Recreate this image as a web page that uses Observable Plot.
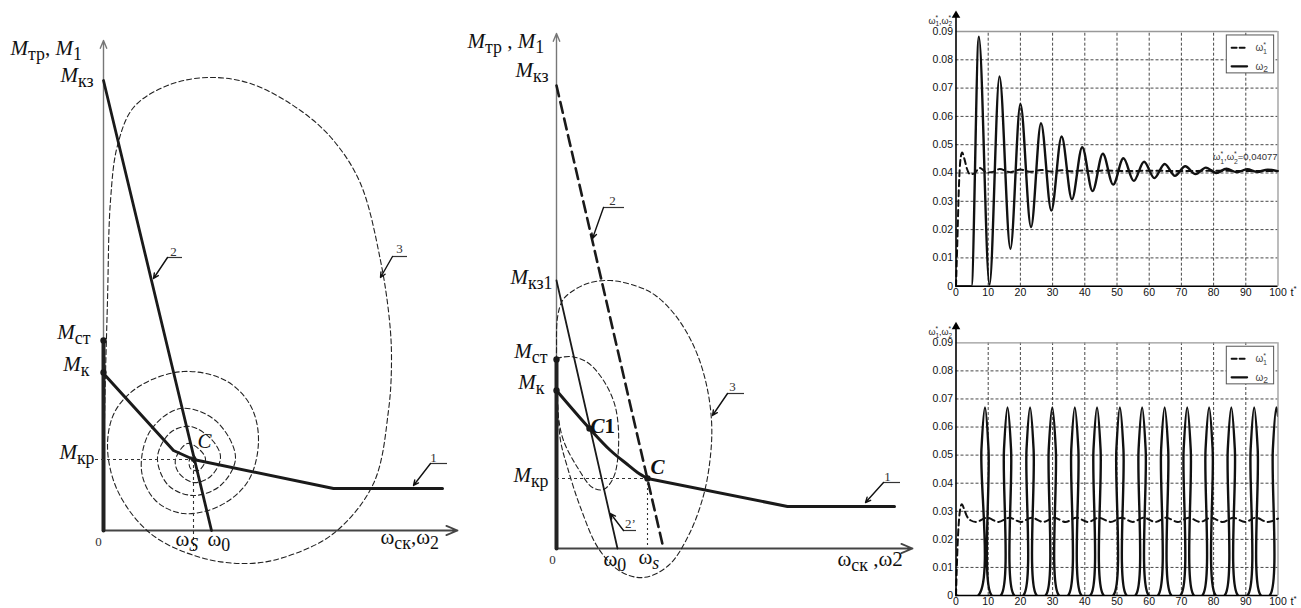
<!DOCTYPE html>
<html><head><meta charset="utf-8">
<script src="https://cdn.jsdelivr.net/npm/d3@7"></script>
<script src="https://cdn.jsdelivr.net/npm/@observablehq/plot@0.6"></script>
<style>
html,body{margin:0;padding:0;background:#fff;}
#fig{position:relative;width:1301px;height:608px;overflow:hidden;background:#fff;}
#fig svg{position:absolute;}
</style></head><body><div id="fig"></div>
<script>
const SERIF = "'Liberation Serif','Times New Roman',serif";
const SANS = "Arial,'Liberation Sans',sans-serif";

// ---------- Diagram 1 (stable case) : units ω (x) and M (y) ----------
const d1Axes = [[0,0,0,49],[0,0,35.4,0]];
const d1Stick = [[0,0],[0,19.0]];
const d1Curve1 = [[0,15.7],[7.0,8.0],[9.0,7.1],[23.0,4.2],[33.9,4.2]];
const d1Curve2 = [[0,45.0],[10.8,0]];
const d1Trajectory = [[0,0],[0.1,11.0],[0.4,23.0],[0.7,33.0],[1.4,38.5],[3.0,42.3],[6.4,44.5],[10.4,45.3],[14.7,44.7],[19.7,42.0],[23.0,39.0],[25.7,34.7],[27.7,27.0],[28.6,21.0],[28.8,17.0],[28.5,12.0],[27.0,4.7],[23.0,-0.3],[18.0,-2.7],[14.4,-3.3],[9.7,-2.7],[4.7,-0.3],[1.4,4.0],[0.4,8.5],[1.2,12.0],[3.7,14.5],[8.0,15.9],[12.2,15.0],[14.7,12.5],[15.5,9.0],[14.5,5.0],[11.7,2.5],[8.0,1.7],[5.2,3.0],[3.8,6.0],[4.7,10.0],[7.7,12.2],[11.2,11.0],[13.2,7.3],[11.7,4.5],[9.0,3.5],[6.5,4.5],[5.4,7.3],[6.7,9.8],[8.7,10.4],[10.9,9.0],[11.7,7.3],[10.7,5.4],[9.0,4.8],[7.5,5.8],[7.2,7.1],[8.4,8.7],[9.7,8.0],[10.2,7.1],[9.5,6.0],[8.7,6.2],[8.6,7.1],[9.0,7.5],[9.3,7.0],[9.0,6.8]];
const d1Points = [[0,19.0],[0,15.8]];
const d1CenterPoint = [[9.0,7.1]];
const d1GuidesH = [[-0.8,9.0,7.1]];
const d1GuidesV = [[9.0,7.1,-2.0]];
const d1LeaderBars = [[6.4,7.9,27.3],[28.9,30.4,27.4],[32.7,34.4,6.7]];
const d1LeaderArrows = [[6.4,27.3,5.0,25.2],[28.9,27.4,27.7,25.3],[32.7,6.7,31.0,4.5]];
const d1LabelsStart = [
  {u:-9.3, v:47.6, t:"iM|sтр|n, |iM|s1"},
  {u:9.4, v:8.3, t:"iC|n"},
  {u:7.2, v:-1.5, t:"nω|jS"},
  {u:10.4, v:-1.5, t:"nω|s0"},
  {u:27.7, v:-1.3, t:"nω|sск|n,ω|s2"}
];
const d1LabelsEnd = [
  {u:-1.0, v:44.9, t:"iM|sкз"},
  {u:-1.3, v:19.2, t:"iM|sст"},
  {u:-1.4, v:16.0, t:"iM|sк"},
  {u:-0.9, v:7.2, t:"iM|sкр"}
];
const d1Numbers = [{u:7.0,v:27.5,t:"2"},{u:29.6,v:27.8,t:"3"},{u:33.0,v:6.9,t:"1"},{u:-0.5,v:-1.5,t:"0"}];

// ---------- Diagram 2 (self-oscillation case) ----------
const d2Axes = [[0,0,0,51.5],[0,0,35.6,0]];
const d2Stick = [[0,0],[0,18.9]];
const d2Curve1a = [[0,15.8],[3.3,12.0],[5.4,9.8],[7.1,8.4],[8.1,7.6],[9.1,7.0]];
const d2Curve1b = [[9.1,7.0],[23.1,4.2],[33.8,4.2]];
const d2Curve2 = [[0,46.3],[10.7,0]];
const d2Curve2p = [[0,26.8],[6.1,0]];
const d2LoopSmall = [[0,19.0],[1.4,19.2],[3.1,18.6],[4.7,16.8],[5.9,14.1],[6.2,10.1],[5.7,7.1],[4.7,5.9],[3.6,6.1],[2.1,8.1],[0.7,10.8],[0.2,13.1],[0.1,15.3]];
const d2LoopLarge = [[0.1,14.8],[0,17.8],[0,19.8],[0.1,23.1],[0.6,24.8],[1.4,25.6],[3.1,26.5],[5.4,26.8],[8.1,26.2],[9.9,25.3],[11.9,23.3],[13.7,20.3],[14.9,16.8],[15.5,12.8],[15.4,9.3],[14.7,5.3],[13.2,1.3],[11.2,-1.7],[8.7,-2.9],[6.4,-2.3],[4.2,0],[2.4,4.1],[1.1,8.1],[0.4,10.8],[0.1,14.8]];
const d2Points = [[0,18.9],[0,15.8],[3.3,12.0],[9.1,7.0]];
const d2GuidesH = [[0,9.1,7.0]];
const d2GuidesV = [[9.1,7.0,0]];
const d2LeaderBars = [[4.7,6.8,34.1],[17.1,18.8,15.5],[32.7,34.4,6.6],[6.7,8.0,1.8]];
const d2LeaderArrows = [[4.7,34.1,3.6,31.0],[17.1,15.5,15.6,13.3],[32.7,6.6,30.9,4.6],[6.7,1.8,5.4,3.5]];
const d2LabelsStart = [
  {u:-8.9, v:50.1, t:"iM|sтр|n , |iM|s1"},
  {u:3.4, v:11.6, t:"bC|B1"},
  {u:9.4, v:7.5, t:"bC|n"},
  {u:4.7, v:-1.7, t:"nω|s0"},
  {u:8.2, v:-1.5, t:"nω|js"},
  {u:28.1, v:-1.7, t:"nω|sск|n ,ω2"}
];
const d2LabelsEnd = [
  {u:-0.8, v:47.2, t:"iM|sкз"},
  {u:-0.4, v:26.5, t:"iM|sкз1"},
  {u:-0.9, v:19.1, t:"iM|sст"},
  {u:-1.2, v:16.0, t:"iM|sк"},
  {u:-0.8, v:6.7, t:"iM|sкр"}
];
const d2Numbers = [{u:5.6,v:34.4,t:"2"},{u:17.6,v:15.8,t:"3"},{u:33.1,v:6.8,t:"1"},{u:7.4,v:2.1,t:"2’"},{u:-0.4,v:-1.5,t:"0"}];

// ---------- Time responses ----------
const tTicks = [0,10,20,30,40,50,60,70,80,90,100];
const wTicks = [0,0.01,0.02,0.03,0.04,0.05,0.06,0.07,0.08,0.09];
const tGrid = [10,20,30,40,50,60,70,80,90];
const wGrid = [0.01,0.02,0.03,0.04,0.05,0.06,0.07,0.08];

const topW1 = [[0,0],[0.4,0.015],[0.9,0.035],[1.4,0.045],[1.9,0.0472],[2.6,0.045],[3.4,0.0415],[4.4,0.0395],[5.6,0.0398],[7.4,0.0418],[9.6,0.0402],[11.5,0.0404],[13.6,0.0414],[16.8,0.0403],[20.0,0.0412],[23.2,0.0404],[26.4,0.0411],[29.6,0.0405],[32.8,0.041],[36,0.0406],[39.2,0.0409],[42.4,0.0406],[46,0.0409],[52,0.0407],[60,0.0408],[70,0.0407],[80,0.0408],[90,0.0407],[100,0.0407]];
const topW2 = [[0,0],[4.8,0],[7.1,0.0882],[10.4,0.0005],[13.5,0.0741],[16.9,0.0132],[20.0,0.0644],[23.3,0.0209],[26.4,0.0576],[29.6,0.0267],[32.8,0.0529],[36.0,0.0307],[39.2,0.0491],[42.4,0.0336],[45.6,0.0468],[48.8,0.0359],[52.0,0.0452],[55.2,0.0372],[58.4,0.0440],[61.6,0.0382],[64.8,0.0432],[68.0,0.0390],[71.2,0.0424],[74.4,0.0396],[77.6,0.0419],[80.8,0.0400],[84.0,0.0415],[87.2,0.0403],[90.4,0.0413],[93.6,0.0404],[96.8,0.0412],[100,0.0406]];
const botW1 = [[0,0],[0.5,0.018],[1.1,0.029],[1.8,0.0325],[2.6,0.0305],[3.4,0.0282],[4.5,0.0268],[6.2,0.0262],[9.6,0.0277],[13.2,0.0262],[16.6,0.0277],[20.1,0.0262],[23.5,0.0277],[27.1,0.0262],[30.5,0.0277],[34.0,0.0262],[37.4,0.0277],[41.0,0.0262],[44.4,0.0277],[48.0,0.0262],[51.4,0.0277],[54.9,0.0262],[58.3,0.0277],[61.9,0.0262],[65.3,0.0277],[68.9,0.0262],[72.3,0.0277],[75.8,0.0262],[79.2,0.0277],[82.8,0.0262],[86.1,0.0277],[89.8,0.0262],[93.1,0.0277],[96.7,0.0262],[100,0.0274]];
const botW2 = [[0,0],[6.9,0],[7.9,0.052],[9.0,0.067],[10.1,0.052],[11.1,0],
 [13.9,0],[14.9,0.052],[16.0,0.067],[17.1,0.052],[18.1,0],
 [20.9,0],[21.9,0.052],[23.0,0.067],[24.1,0.052],[25.1,0],
 [27.8,0],[28.8,0.052],[29.9,0.067],[31.0,0.052],[32.0,0],
 [34.8,0],[35.8,0.052],[36.9,0.067],[38.0,0.052],[39.0,0],
 [41.7,0],[42.7,0.052],[43.8,0.067],[44.9,0.052],[45.9,0],
 [48.8,0],[49.8,0.052],[50.9,0.067],[52.0,0.052],[53.0,0],
 [55.7,0],[56.7,0.052],[57.8,0.067],[58.9,0.052],[59.9,0],
 [62.7,0],[63.7,0.052],[64.8,0.067],[65.9,0.052],[66.9,0],
 [69.7,0],[70.7,0.052],[71.8,0.067],[72.9,0.052],[73.9,0],
 [76.5,0],[77.5,0.052],[78.6,0.067],[79.7,0.052],[80.7,0],
 [83.4,0],[84.4,0.052],[85.5,0.067],[86.6,0.052],[87.6,0],
 [90.5,0],[91.5,0.052],[92.6,0.067],[93.7,0.052],[94.7,0],
 [97.4,0],[98.4,0.052],[99.5,0.067],[100,0.064]];
const legendBox = [{x1:84.1,x2:98.8,y1:0.0752,y2:0.0886}];
const legendDashed = [[85.6,0.0843],[90.4,0.0843]];
const legendSolid = [[85.6,0.0777],[90.4,0.0777]];
const legendTexts = [{t:93.0,w:0.0843,s:"nω|p*|q1"},{t:93.0,w:0.0777,s:"nω|s2"}];
const steadyNote = [{t:79.8,w:0.0455,s:"nω|p*|q1|n,ω|p*|q2|n=0,04077"}];

// ---------- helpers ----------
const svgNS = "http://www.w3.org/2000/svg";
function richify(root){
  const SPEC = {
    n:{shift:0,size:1}, i:{shift:0,size:1,it:1}, b:{shift:0,size:1,it:1,bd:1}, B:{shift:0,size:1,bd:1},
    s:{shift:0.24,size:0.85}, j:{shift:0.24,size:0.85,it:1},
    p:{shift:-0.42,size:0.72}, q:{shift:0.32,size:0.72,dx:-0.3}
  };
  root.querySelectorAll("text").forEach(el => {
    const s = el.textContent;
    if (!s.includes("|")) return;
    const base = parseFloat(getComputedStyle(el).fontSize) || 12;
    while (el.firstChild) el.removeChild(el.firstChild);
    let cur = 0;
    s.split("|").forEach(part => {
      const sp = SPEC[part[0]] || SPEC.n;
      const t = document.createElementNS(svgNS, "tspan");
      const shift = sp.shift * base;
      t.setAttribute("dy", (shift - cur).toFixed(2)); cur = shift;
      if (sp.dx) t.setAttribute("dx", (sp.dx * base).toFixed(2));
      t.setAttribute("font-size", (sp.size * base).toFixed(2));
      t.setAttribute("font-style", sp.it ? "italic" : "normal");
      t.setAttribute("font-weight", sp.bd ? "bold" : "normal");
      t.textContent = part.slice(1);
      el.appendChild(t);
    });
  });
}

const fig = document.getElementById("fig");
function place(svg, left, top){
  svg.style.left = left + "px"; svg.style.top = top + "px";
  fig.appendChild(svg);
  richify(svg);
}

const uv = {x: d => d[0], y: d => d[1]};
const seg = {x1: d => d[0], y1: d => d[1], x2: d => d[2], y2: d => d[3]};

function leaderMarks(bars, arrows){
  return [
    Plot.ruleY(bars, {y: d => d[2], x1: d => d[0], x2: d => d[1], stroke:"#333", strokeWidth:1.2}),
    Plot.arrow(arrows, {...seg, stroke:"#111", strokeWidth:1.4, headLength:6, headAngle:50})
  ];
}
function labelMarks(starts, ends, numbers){
  return [
    Plot.text(starts, {x:"u", y:"v", text:"t", textAnchor:"start", lineAnchor:"bottom", fontSize:21, fill:"#111"}),
    Plot.text(ends, {x:"u", y:"v", text:"t", textAnchor:"end", lineAnchor:"bottom", fontSize:21, fill:"#111"}),
    Plot.text(numbers, {x:"u", y:"v", text:"t", textAnchor:"middle", lineAnchor:"bottom", fontSize:13, fill:"#333"})
  ];
}

// ---------- Diagram 1 ----------
const plot1 = Plot.plot({
  width:470, height:608, margin:0,
  style:{background:"transparent", fontFamily:SERIF, overflow:"visible"},
  x:{domain:[-10.3,36.7], axis:null}, y:{domain:[-7.8,53.0], axis:null},
  marks:[
    Plot.arrow(d1Axes.slice(0,1), {...seg, stroke:"#777", strokeWidth:1.4, headLength:9, headAngle:45}),
    Plot.arrow(d1Axes.slice(1), {...seg, stroke:"#444", strokeWidth:1.8, headLength:10, headAngle:45}),
    Plot.line(d1Trajectory, {...uv, curve:"catmull-rom", stroke:"#222", strokeWidth:1.1, strokeDasharray:"5,3"}),
    Plot.line(d1Stick, {...uv, stroke:"#222", strokeWidth:4}),
    Plot.line(d1Curve1, {...uv, stroke:"#1a1a1a", strokeWidth:3}),
    Plot.line(d1Curve2, {...uv, stroke:"#1a1a1a", strokeWidth:2.8}),
    Plot.ruleY(d1GuidesH, {y: d => d[2], x1: d => d[0], x2: d => d[1], stroke:"#333", strokeWidth:1.1, strokeDasharray:"3,3"}),
    Plot.ruleX(d1GuidesV, {x: d => d[0], y1: d => d[1], y2: d => d[2], stroke:"#333", strokeWidth:1.1, strokeDasharray:"3,3"}),
    Plot.dot(d1Points, {...uv, r:3.2, fill:"#1a1a1a"}),
    Plot.dot(d1CenterPoint, {...uv, r:2.5, fill:"#1a1a1a"}),
    ...leaderMarks(d1LeaderBars, d1LeaderArrows),
    ...labelMarks(d1LabelsStart, d1LabelsEnd, d1Numbers)
  ]
});
place(plot1, 0, 0);

// ---------- Diagram 2 ----------
const plot2 = Plot.plot({
  width:485, height:608, margin:0,
  style:{background:"transparent", fontFamily:SERIF, overflow:"visible"},
  x:{domain:[-9.6,38.9], axis:null}, y:{domain:[-6.0,54.8], axis:null},
  marks:[
    Plot.arrow(d2Axes.slice(0,1), {...seg, stroke:"#777", strokeWidth:1.4, headLength:9, headAngle:45}),
    Plot.arrow(d2Axes.slice(1), {...seg, stroke:"#444", strokeWidth:1.8, headLength:10, headAngle:45}),
    Plot.line(d2LoopSmall, {...uv, curve:"catmull-rom", stroke:"#222", strokeWidth:1.1, strokeDasharray:"5,3"}),
    Plot.line(d2LoopLarge, {...uv, curve:"catmull-rom", stroke:"#222", strokeWidth:1.1, strokeDasharray:"5,3"}),
    Plot.line(d2Stick, {...uv, stroke:"#222", strokeWidth:4}),
    Plot.line(d2Curve1a, {...uv, curve:"catmull-rom", stroke:"#1a1a1a", strokeWidth:3}),
    Plot.line(d2Curve1b, {...uv, stroke:"#1a1a1a", strokeWidth:3}),
    Plot.line(d2Curve2, {...uv, stroke:"#1a1a1a", strokeWidth:2.6, strokeDasharray:"11,6"}),
    Plot.line(d2Curve2p, {...uv, stroke:"#1a1a1a", strokeWidth:1.8}),
    Plot.ruleY(d2GuidesH, {y: d => d[2], x1: d => d[0], x2: d => d[1], stroke:"#333", strokeWidth:1.1, strokeDasharray:"3,3"}),
    Plot.ruleX(d2GuidesV, {x: d => d[0], y1: d => d[1], y2: d => d[2], stroke:"#333", strokeWidth:1.1, strokeDasharray:"2,3"}),
    Plot.dot(d2Points, {...uv, r:3.2, fill:"#1a1a1a"}),
    ...leaderMarks(d2LeaderBars, d2LeaderArrows),
    ...labelMarks(d2LabelsStart, d2LabelsEnd, d2Numbers)
  ]
});
place(plot2, 460, 0);

// ---------- Time charts ----------
function timeChart({w1, w2, w2curve, height, marginTop, marginBottom, notes}){
  return Plot.plot({
    width:401, height, marginLeft:55.5, marginRight:23.5, marginTop, marginBottom,
    style:{background:"transparent", fontFamily:SANS, fontSize:"10.5px", color:"#111", overflow:"visible"},
    x:{domain:[0,100], ticks:tTicks, tickSize:0, tickPadding:2, label:null},
    y:{domain:[0,0.09], ticks:wTicks, tickSize:0, tickPadding:3, label:null, tickFormat: d => d === 0 ? "0" : d.toFixed(2)},
    marks:[
      Plot.ruleX(tGrid, {y1:0, y2:0.09, stroke:"#333", strokeWidth:0.9, strokeDasharray:"3,2"}),
      Plot.ruleY(wGrid, {x1:0, x2:100, stroke:"#333", strokeWidth:0.9, strokeDasharray:"3,2"}),
      Plot.ruleY([0.09], {x1:0, x2:100, stroke:"#999", strokeWidth:1.3}),
      Plot.ruleX([100], {y1:0, y2:0.09, stroke:"#999", strokeWidth:1.3}),
      Plot.line(w1, {...uv, curve:"monotone-x", stroke:"#111", strokeWidth:2, strokeDasharray:"6,4"}),
      Plot.line(w2, {...uv, curve:w2curve, stroke:"#111", strokeWidth:2.4, clip:true}),
      Plot.ruleY([0], {x1:0, x2:100, stroke:"#000", strokeWidth:1.6}),
      Plot.ruleX([0], {y1:0, y2:0.0955, stroke:"#000", strokeWidth:1.6}),
      Plot.dot([[0,0.0957]], {...uv, symbol:"triangle", r:3.2, fill:"#000"}),
      Plot.rect(legendBox, {x1:"x1", x2:"x2", y1:"y1", y2:"y2", fill:"white", stroke:"#555", strokeWidth:1}),
      Plot.line(legendDashed, {...uv, stroke:"#111", strokeWidth:2, strokeDasharray:"5,3"}),
      Plot.line(legendSolid, {...uv, stroke:"#111", strokeWidth:2.2}),
      Plot.text(legendTexts, {x:"t", y:"w", text:"s", textAnchor:"start", fontSize:10, fill:"#444"}),
      Plot.text(notes, {x:"t", y:"w", text:"s", textAnchor:"start", fontSize:9.5, fill:"#333"}),
      Plot.text([[0,0.09]], {...uv, text:() => "nω|p*|q1|n,ω|p*|q2", textAnchor:"end", lineAnchor:"bottom", dx:-4, dy:-8, fontSize:9, fill:"#222"}),
      Plot.text([[100,0]], {...uv, text:() => "nt|p*", textAnchor:"start", lineAnchor:"top", dx:12.5, dy:2, fontSize:11, fill:"#111"})
    ]
  });
}
place(timeChart({w1:topW1, w2:topW2, w2curve:"monotone-x", height:300, marginTop:31, marginBottom:14.3, notes:steadyNote}), 900, 0);
place(timeChart({w1:botW1, w2:botW2, w2curve:"catmull-rom", height:308, marginTop:42.3, marginBottom:13, notes:[]}), 900, 300);
</script></body></html>
